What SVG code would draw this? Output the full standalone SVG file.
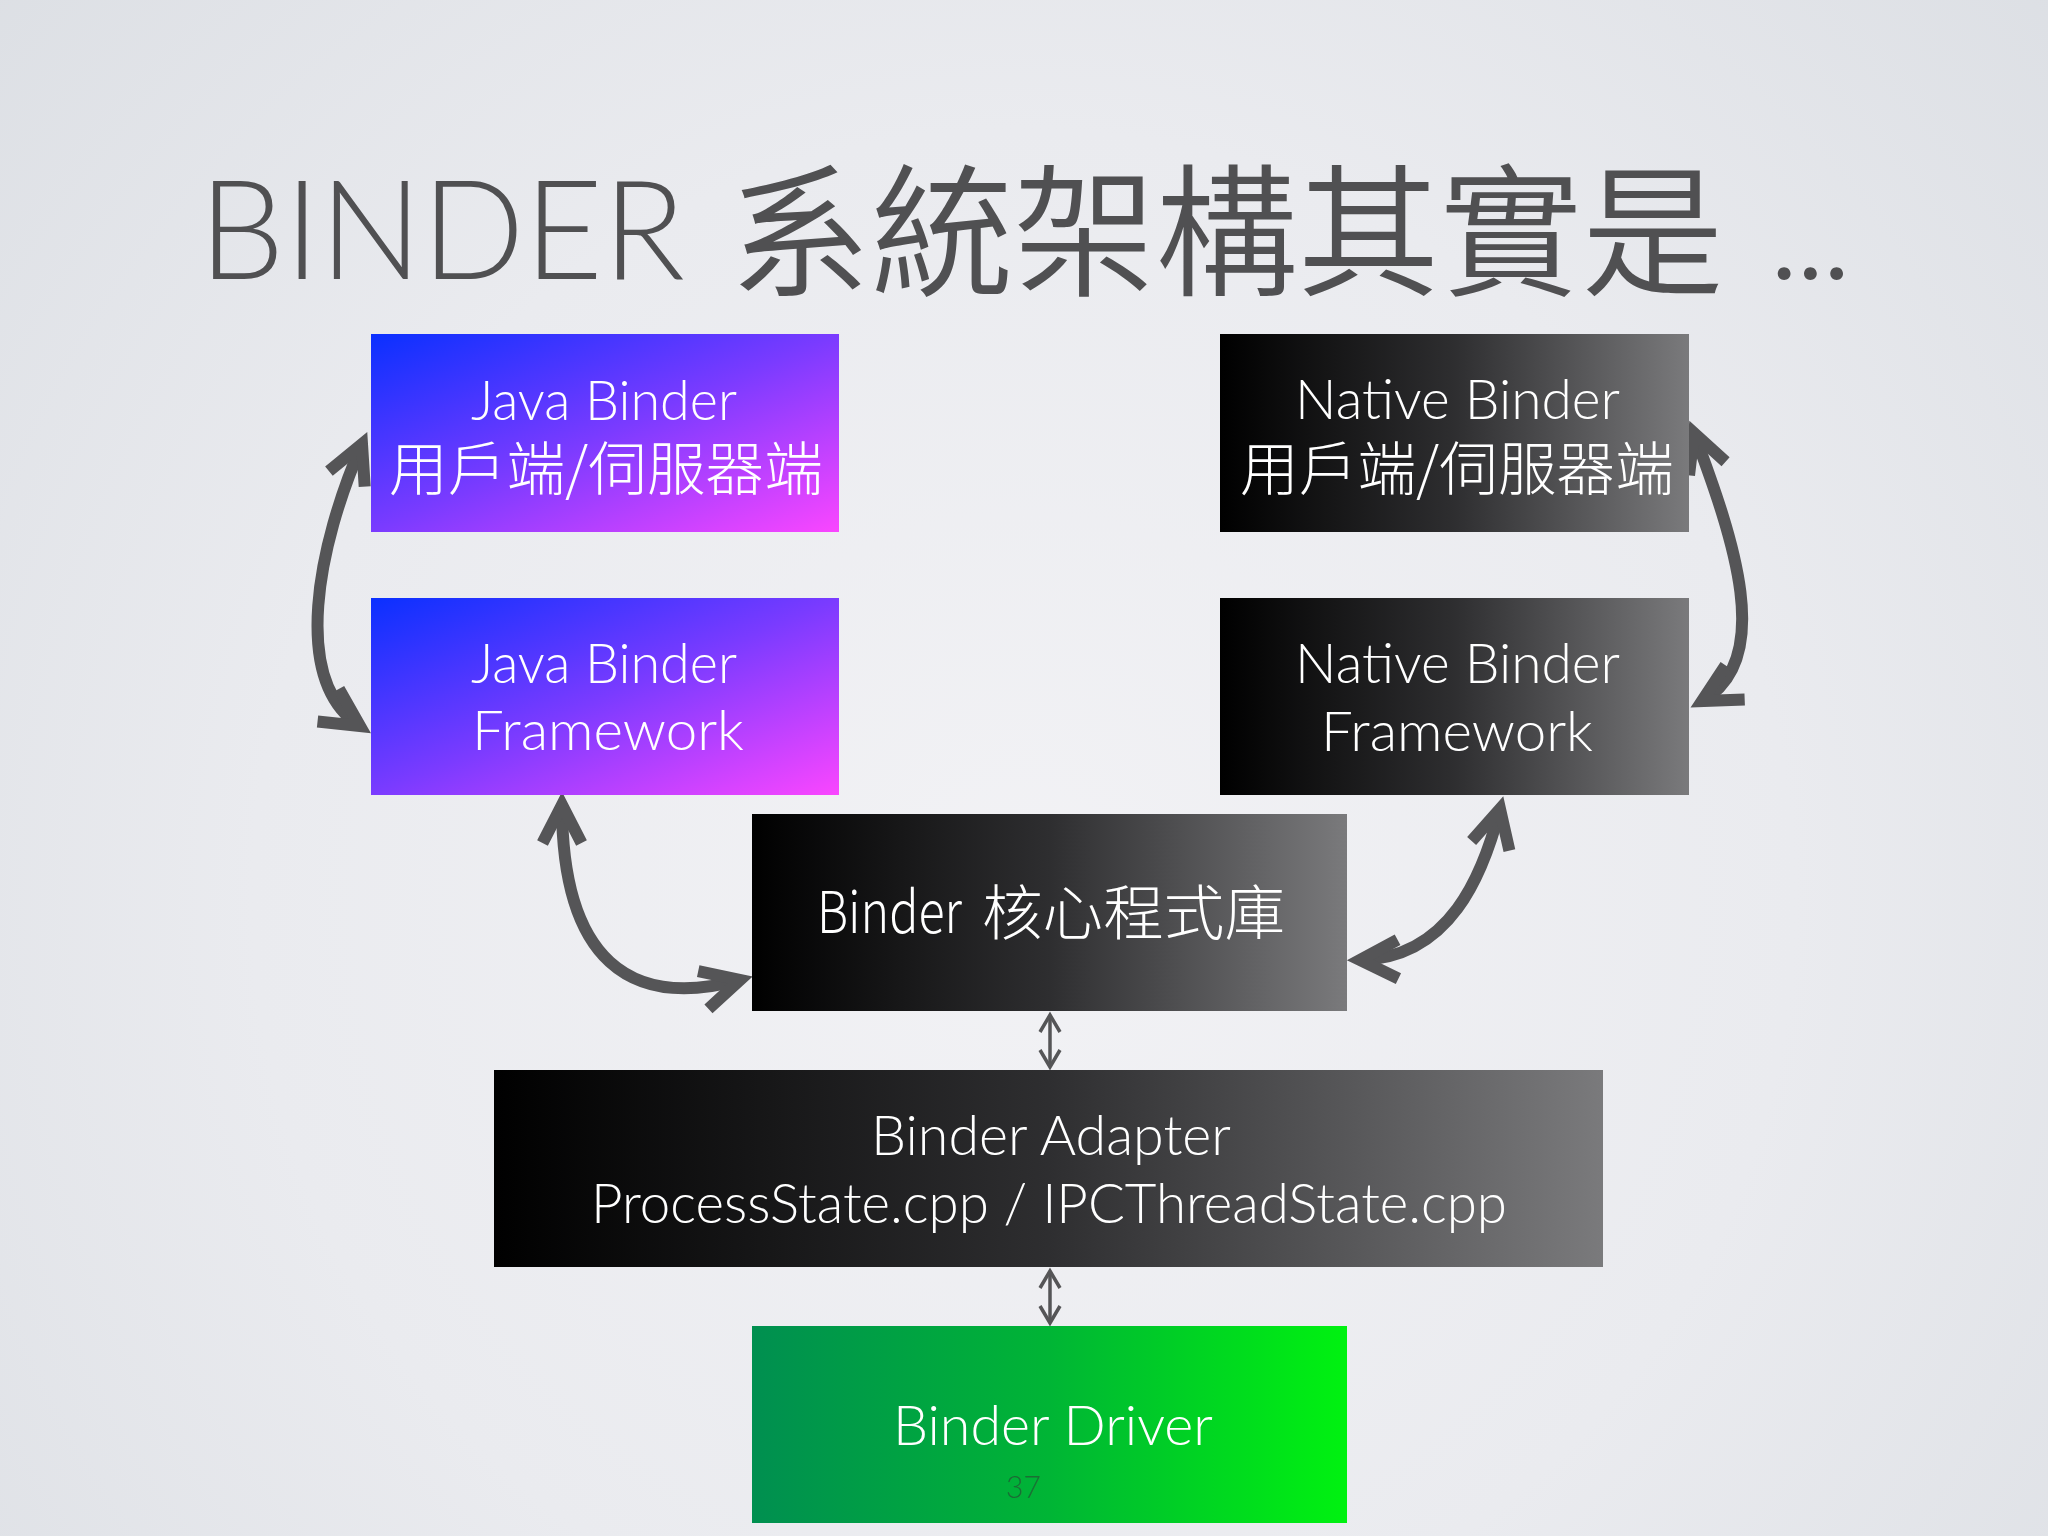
<svg xmlns="http://www.w3.org/2000/svg" width="2048" height="1536" viewBox="0 0 2048 1536">
<defs>
<radialGradient id="bg" cx="1024" cy="900" r="1400" gradientUnits="userSpaceOnUse">
<stop offset="0" stop-color="#f2f2f5"/>
<stop offset="0.55" stop-color="#eaebef"/>
<stop offset="1" stop-color="#dcdfe4"/>
</radialGradient>
<linearGradient id="gJava" x1="0" y1="0" x2="1" y2="1">
<stop offset="0" stop-color="#0a30ff"/>
<stop offset="0.5" stop-color="#7a3bff"/>
<stop offset="1" stop-color="#fa46ff"/>
</linearGradient>
<linearGradient id="gDark" x1="0" y1="0" x2="1" y2="0">
<stop offset="0" stop-color="#000000"/>
<stop offset="0.5" stop-color="#2e2e30"/>
<stop offset="1" stop-color="#7a7a7c"/>
</linearGradient>
<linearGradient id="gGreen" x1="0" y1="0" x2="1" y2="0">
<stop offset="0" stop-color="#008f50"/>
<stop offset="0.5" stop-color="#00b535"/>
<stop offset="1" stop-color="#00f210"/>
</linearGradient>
<marker id="bigHead" markerUnits="userSpaceOnUse" orient="auto-start-reverse" overflow="visible" markerWidth="1" markerHeight="1" refX="0" refY="0">
<path d="M -38 -19.5 L 0 0 L -38 19.5" fill="none" stroke="#555557" stroke-width="12"/>
</marker>
<marker id="smallHead" markerUnits="userSpaceOnUse" orient="auto-start-reverse" overflow="visible" markerWidth="1" markerHeight="1" refX="0" refY="0">
<path d="M -17 -10 L 0 0 L -17 10" fill="none" stroke="#555557" stroke-width="3.5"/>
</marker>
</defs>
<style>
.lat { font-family: Lato, "Open Sans", "Liberation Sans", sans-serif; font-weight: 300; fill: #ffffff; }
.cjk { font-family: "Noto Sans CJK TC", "Noto Sans CJK SC", sans-serif; font-weight: 300; fill: #ffffff; }
.big { stroke: #555557; stroke-width: 12; fill: none; marker-start: url(#bigHead); marker-end: url(#bigHead); }
.small { stroke: #555557; stroke-width: 3.5; fill: none; marker-start: url(#smallHead); marker-end: url(#smallHead); }
</style>
<rect x="0" y="0" width="2048" height="1536" fill="url(#bg)"/>

<g id="title">
<text y="279" font-size="138" fill="#505052" font-family="Lato, 'Liberation Sans', sans-serif" font-weight="300" style="font-variant-ligatures: none"><tspan x="199" textLength="486" lengthAdjust="spacingAndGlyphs">BINDER</tspan> <tspan x="729" y="285" font-family="'Noto Sans CJK TC', 'Noto Sans CJK SC', sans-serif" font-weight="350" font-size="143" textLength="995" lengthAdjust="spacingAndGlyphs">系統架構其實是</tspan> <tspan x="1768" y="279" letter-spacing="-6">...</tspan></text>
</g>

<g id="connectors">
<path class="big" d="M362,444 C318,545 290,680 360,726"/>
<path class="big" d="M1694,433 C1734,540 1775,660 1702,701"/>
<path class="big" d="M562,805 C562,960 630,1010 740,980"/>
<path class="big" d="M1500,809 C1483,875 1450,958 1360,960"/>
<path class="small" d="M1050,1015 L1050,1067"/>
<path class="small" d="M1050,1271 L1050,1323"/>
</g>

<g id="java-client">
<rect x="371" y="334" width="468" height="198" fill="url(#gJava)"/>
<text class="lat" x="471" y="420" font-size="56" textLength="266" lengthAdjust="spacingAndGlyphs">Java Binder</text>
<text class="cjk" x="389" y="490" font-size="58" textLength="434" lengthAdjust="spacingAndGlyphs">用戶端/伺服器端</text>
</g>

<g id="java-framework">
<rect x="371" y="598" width="468" height="197" fill="url(#gJava)"/>
<text class="lat" x="471" y="683" font-size="56" textLength="266" lengthAdjust="spacingAndGlyphs">Java Binder</text>
<text class="lat" x="472" y="750" font-size="56" textLength="272" lengthAdjust="spacingAndGlyphs">Framework</text>
</g>

<g id="native-client">
<rect x="1220" y="334" width="469" height="198" fill="url(#gDark)"/>
<text class="lat" x="1295" y="419" font-size="56" textLength="325" lengthAdjust="spacingAndGlyphs">Native Binder</text>
<text class="cjk" x="1240" y="490" font-size="58" textLength="434" lengthAdjust="spacingAndGlyphs">用戶端/伺服器端</text>
</g>

<g id="native-framework">
<rect x="1220" y="598" width="469" height="197" fill="url(#gDark)"/>
<text class="lat" x="1295" y="683" font-size="56" textLength="325" lengthAdjust="spacingAndGlyphs">Native Binder</text>
<text class="lat" x="1321" y="751" font-size="56" textLength="272" lengthAdjust="spacingAndGlyphs">Framework</text>
</g>

<g id="binder-core">
<rect x="752" y="814" width="595" height="197" fill="url(#gDark)"/>
<text class="cjk" y="933" font-size="58"><tspan x="817" textLength="145" lengthAdjust="spacingAndGlyphs">Binder</tspan> <tspan x="982" y="935" font-size="60" textLength="303" lengthAdjust="spacingAndGlyphs">核心程式庫</tspan></text>
</g>

<g id="binder-adapter">
<rect x="494" y="1070" width="1109" height="197" fill="url(#gDark)"/>
<text class="lat" x="871" y="1155" font-size="56" textLength="360" lengthAdjust="spacingAndGlyphs">Binder Adapter</text>
<text class="lat" x="591" y="1223" font-size="56" textLength="916" lengthAdjust="spacingAndGlyphs">ProcessState.cpp / IPCThreadState.cpp</text>
</g>

<g id="binder-driver">
<rect x="752" y="1326" width="595" height="197" fill="url(#gGreen)"/>
<text class="lat" x="893" y="1445" font-size="56" textLength="320" lengthAdjust="spacingAndGlyphs">Binder Driver</text>
<text x="1006" y="1498" font-size="32" font-family="Lato, 'Liberation Sans', sans-serif" font-weight="300" fill="#333333" fill-opacity="0.55" textLength="35" lengthAdjust="spacingAndGlyphs">37</text>
</g>
</svg>
